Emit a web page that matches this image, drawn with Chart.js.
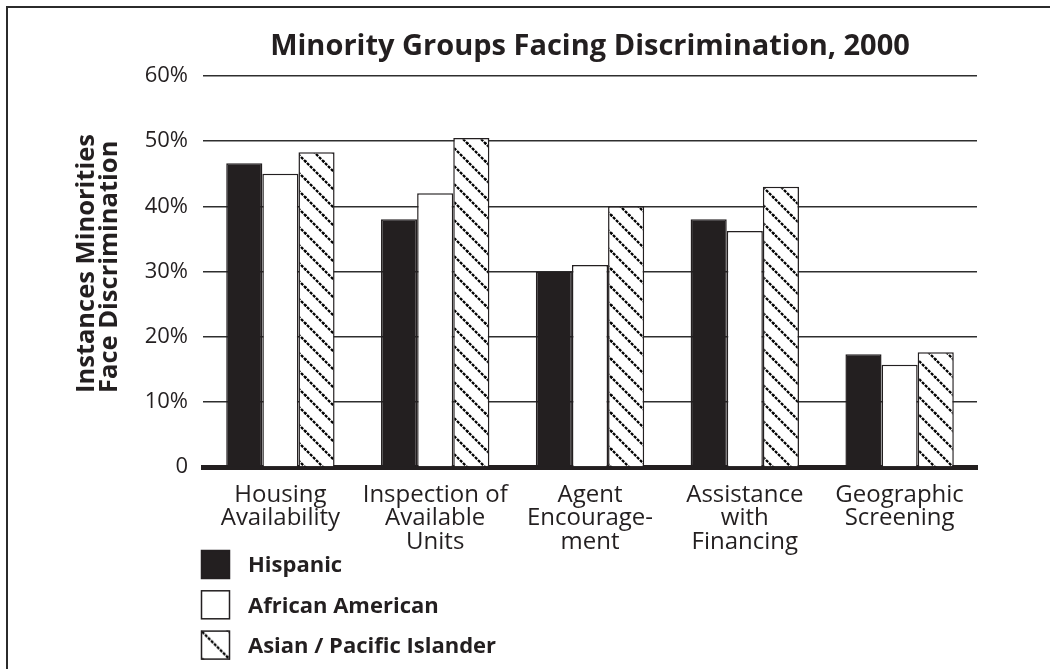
<!DOCTYPE html>
<html>
<head>
<meta charset="utf-8">
<script src="https://cdn.jsdelivr.net/npm/chart.js@4.4.1/dist/chart.umd.min.js"></script>
<style>
  html, body { margin: 0; padding: 0; background: #fff; }
  canvas { display: block; }
</style>
</head>
<body>
<canvas id="chart" width="1050" height="669"></canvas>
<script>
var chartTitle = "Minority Groups Facing Discrimination, 2000";
var yTitle = ["Instances Minorities", "Face Discrimination"];
var categories = [
  ["Housing", "Availability"],
  ["Inspection of", "Available", "Units"],
  ["Agent", "Encourage-", "ment"],
  ["Assistance", "with", "Financing"],
  ["Geographic", "Screening"]
];
var seriesNames = ["Hispanic", "African American", "Asian / Pacific Islander"];
var hispanic = [46.6, 38, 30, 38, 17.3];
var africanAmerican = [45, 42, 31, 36.2, 15.7];
var asianPacific = [48.3, 50.5, 40, 43, 17.6];
var yTickLabels = ["0", "10%", "20%", "30%", "40%", "50%", "60%"];

var ink = "#231f20";
var family = '"Open Sans", "Noto Sans", sans-serif';

// dashed "\" hatching, tiles seamlessly
function makeHatch(size) {
  var c = document.createElement("canvas");
  c.width = size;
  c.height = size;
  var g = c.getContext("2d");
  g.fillStyle = "#fff";
  g.fillRect(0, 0, size, size);
  g.strokeStyle = "#000";
  g.lineWidth = 2.3;
  var n = Math.max(1, Math.round(size * Math.SQRT2 / 4.24));
  var unit = size * Math.SQRT2 / n;
  g.setLineDash([unit * 0.72, unit * 0.28]);
  [[0, 0], [size, 0], [0, size], [-size, 0], [0, -size]].forEach(function (o) {
    g.beginPath();
    g.moveTo(o[0] - 2, o[1] - 2);
    g.lineTo(o[0] + size + 2, o[1] + size + 2);
    g.stroke();
  });
  return g.createPattern(c, "repeat");
}

var barHatch = makeHatch(18);
var legendHatch = makeHatch(27);

var decor = {
  id: "decor",
  beforeDraw: function (chart) {
    var ctx = chart.ctx;
    ctx.save();
    ctx.fillStyle = "#fff";
    ctx.fillRect(0, 0, chart.width, chart.height);
    ctx.strokeStyle = "#2b2b2b";
    ctx.lineWidth = 2;
    ctx.beginPath();
    ctx.moveTo(7, chart.height);
    ctx.lineTo(7, 7);
    ctx.lineTo(chart.width, 7);
    ctx.stroke();
    ctx.restore();
  },
  afterDraw: function (chart) {
    var ctx = chart.ctx;
    var ca = chart.chartArea;
    ctx.save();
    ctx.fillStyle = ink;

    // title
    ctx.font = "bold 29px " + family;
    ctx.textAlign = "center";
    ctx.textBaseline = "middle";
    ctx.fillText(chartTitle, (ca.left + ca.right) / 2, 47);

    // y axis title, two lines, rotated
    ctx.save();
    ctx.translate(0, 393);
    ctx.rotate(-Math.PI / 2);
    ctx.font = "bold 25.5px " + family;
    ctx.textAlign = "left";
    ctx.fillText(yTitle[0], 0, 87);
    ctx.fillText(yTitle[1], 0, 110);
    ctx.restore();

    // legend
    var ds = chart.data.datasets;
    for (var i = 0; i < ds.length; i++) {
      var top = 550 + i * 40.3;
      var fill = ds[i].backgroundColor;
      if (fill === barHatch) {
        legendHatch.setTransform(new DOMMatrix().translate(201, top));
        fill = legendHatch;
      }
      ctx.fillStyle = fill;
      ctx.fillRect(201, top, 29, 29);
      ctx.strokeStyle = ink;
      ctx.lineWidth = 1.5;
      ctx.strokeRect(201.5, top + 0.5, 28, 28);
      ctx.fillStyle = ink;
      ctx.font = "bold 22px " + family;
      ctx.textAlign = "left";
      ctx.textBaseline = "middle";
      ctx.fillText(ds[i].label, 248, top + 16);
    }
    ctx.restore();
  }
};

var xFont = { family: family, size: 24, lineHeight: "23.5px" };
var yFont = { family: family, size: 22 };

var chart = new Chart(document.getElementById("chart"), {
  type: "bar",
  data: {
    labels: categories,
    datasets: [
      { label: seriesNames[0], data: hispanic, backgroundColor: ink, borderColor: ink, borderWidth: 1.5 },
      { label: seriesNames[1], data: africanAmerican, backgroundColor: "#fff", borderColor: ink, borderWidth: 1.5 },
      { label: seriesNames[2], data: asianPacific, backgroundColor: barHatch, borderColor: ink, borderWidth: 1.5 }
    ]
  },
  options: {
    responsive: false,
    animation: false,
    layout: { padding: { top: 76, right: 73, bottom: 0, left: 0 } },
    datasets: {
      bar: { categoryPercentage: 0.7, barPercentage: 1, borderSkipped: "bottom" }
    },
    plugins: {
      legend: { display: false },
      title: { display: false },
      tooltip: { enabled: false }
    },
    scales: {
      x: {
        z: 1,
        grid: { display: false, drawTicks: false },
        border: { display: true, width: 5, color: ink },
        ticks: { color: ink, padding: 16, font: xFont, maxRotation: 0, autoSkip: false },
        afterFit: function (s) { s.height = 202; }
      },
      y: {
        min: 0,
        max: 60,
        grid: {
          drawTicks: false,
          lineWidth: 1.6,
          color: function (c) { return c.tick && c.tick.value === 0 ? "rgba(0,0,0,0)" : "#2e2e2e"; }
        },
        border: { display: false },
        ticks: {
          stepSize: 10,
          padding: 15,
          color: ink,
          font: yFont,
          callback: function (v) { return yTickLabels[Math.round(v / 10)]; }
        },
        afterFit: function (s) { s.width = 203; }
      }
    }
  },
  plugins: [decor]
});
</script>
</body>
</html>
